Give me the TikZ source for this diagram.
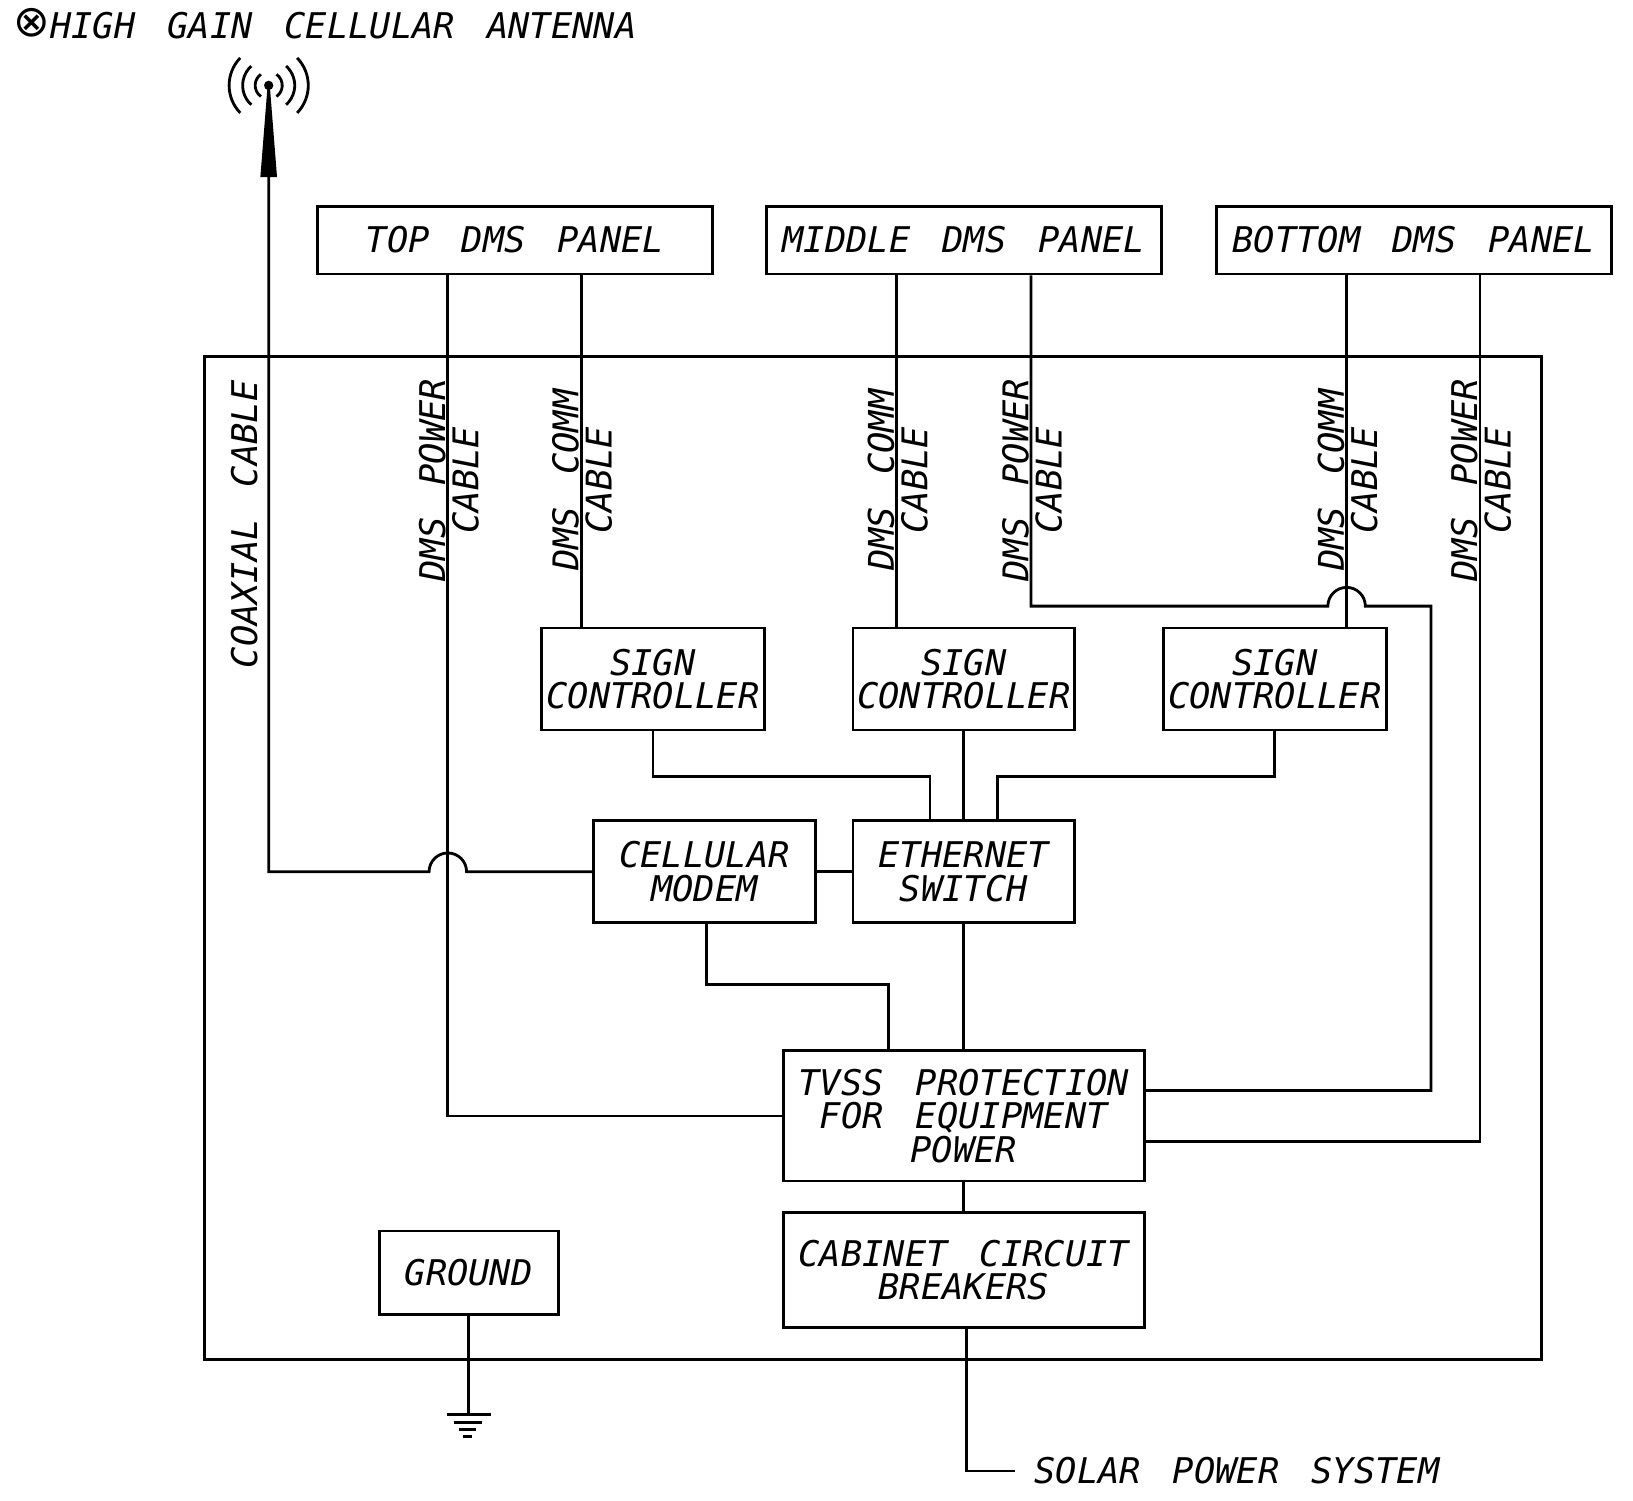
\documentclass[tikz,border=0pt]{standalone}
\usepackage{fontspec}
\newfontfamily\cad{DejaVu Sans Mono}[WordSpace=1.5]
\newfontfamily\symf{DejaVu Sans}
\newcommand\cadfont{\cad\itshape\fontsize{34}{32}\selectfont}
\begin{document}
\begin{tikzpicture}[x=1pt,y=-1pt,
  box/.style={draw, line width=2.7pt, inner sep=0pt, align=center, font=\cadfont},
  vlabel/.style={rotate=90, inner sep=0pt, align=center, font=\cadfont},
  wire/.style={line width=2.7pt, line join=miter},
  gbar/.style={line width=2.8pt}]
\useasboundingbox (0,0) rectangle (1568,1441);

% cabinet
\draw[wire] (196,342) rectangle (1480,1305);

% boxes
\node[box, minimum width=379pt, minimum height=65pt] (top) at (494.5,230.5) {TOP DMS PANEL};
\node[box, minimum width=379pt, minimum height=65pt] (mid) at (925.5,230.5) {MIDDLE DMS PANEL};
\node[box, minimum width=379pt, minimum height=65pt] (bot) at (1357.5,230.5) {BOTTOM DMS PANEL};
\node[box, minimum width=214pt, minimum height=98pt] (sc1) at (627,652) {SIGN\\CONTROLLER};
\node[box, minimum width=213pt, minimum height=98pt] (sc2) at (925.5,652) {SIGN\\CONTROLLER};
\node[box, minimum width=214pt, minimum height=98pt] (sc3) at (1224,652) {SIGN\\CONTROLLER};
\node[box, minimum width=213pt, minimum height=98pt] (modem) at (676.5,837) {CELLULAR\\MODEM};
\node[box, minimum width=213pt, minimum height=98pt] (eth) at (925.5,837) {ETHERNET\\SWITCH};
\node[box, minimum width=347pt, minimum height=125pt] (tvss) at (925.5,1071.5) {TVSS PROTECTION\\FOR EQUIPMENT\\POWER};
\node[box, minimum width=347pt, minimum height=111pt] (cb) at (925.5,1219.5) {CABINET CIRCUIT\\BREAKERS};
\node[box, minimum width=172pt, minimum height=80pt] (gnd) at (450,1222) {GROUND};

% header
\node[font=\symf\fontsize{42}{42}\selectfont, inner sep=0pt] (sym) at (31,22) {⊗};
\node[font=\cadfont, anchor=base west, inner sep=0pt] (title) at (48,37) {HIGH GAIN CELLULAR ANTENNA};

% antenna
\fill (258,82) circle[radius=4.5];
\fill (256.8,84) -- (259.2,84) -- (266,170) -- (250,170) -- cycle;
\coordinate (ant) at (258,170);
\draw[line width=2.7pt] (258,82) ++(136:38) arc[start angle=136, end angle=224, radius=38];
\draw[line width=2.7pt] (258,82) ++(-44:38) arc[start angle=-44, end angle=44, radius=38];
\draw[line width=2.7pt] (258,82) ++(132:25) arc[start angle=132, end angle=228, radius=25];
\draw[line width=2.7pt] (258,82) ++(-48:25) arc[start angle=-48, end angle=48, radius=25];
\draw[line width=2.7pt] (258,82) ++(125:13) arc[start angle=125, end angle=235, radius=13];
\draw[line width=2.7pt] (258,82) ++(-55:13) arc[start angle=-55, end angle=55, radius=13];

% coaxial cable with hop
\draw[wire] (ant) -- (258,837) -- (412,837) arc[start angle=180, end angle=360, radius=18] -- (modem.west);

% DMS cables
\draw[wire] ([xshift=-64.5pt]top.south) |- (tvss.west);
\draw[wire] ([xshift=63.5pt]top.south) -- ([xshift=-69pt]sc1.north);
\draw[wire] ([xshift=-64.5pt]mid.south) -- ([xshift=-64.5pt]sc2.north);
\draw[wire] ([xshift=64.5pt]mid.south) -- (990,582) -- (1275,582)
  arc[start angle=180, end angle=360, radius=18] -- (1374,582) |- ([yshift=24.5pt]tvss.east);
\draw[wire] ([xshift=-64.5pt]bot.south) -- ([xshift=69pt]sc3.north);
\draw[wire] ([xshift=63.5pt]bot.south) |- ([yshift=-24.5pt]tvss.east);

% controller to switch
\draw[wire] (sc1.south) -- ++(0,43) -| ([xshift=-32.5pt]eth.north);
\draw[wire] (sc2.south) -- (eth.north);
\draw[wire] (sc3.south) -- ++(0,43) -| ([xshift=32.5pt]eth.north);
\draw[wire] (modem.east) -- (eth.west);
\draw[wire] ([xshift=1.5pt]modem.south) -- ++(0,58) -| ([xshift=-72.5pt]tvss.north);
\draw[wire] (eth.south) -- (tvss.north);
\draw[wire] (tvss.south) -- (cb.north);

% solar
\node[font=\cadfont, anchor=west, inner sep=0pt, inner xsep=18pt] (solar) at (975,1412.5) {SOLAR POWER SYSTEM};
\draw[wire] ([xshift=2.5pt]cb.south) |- (solar.west);

% ground
\coordinate (gp) at (450,1358.5);
\draw[wire] (gnd.south) -- (gp);
\draw[gbar] (429.5,1358.5) -- (471,1358.5);
\draw[gbar] (436,1365.6) -- (462.5,1365.6);
\draw[gbar] (441,1372.7) -- (457,1372.7);
\draw[gbar] (444.5,1379.7) -- (453.5,1379.7);

% vertical cable labels
\node[vlabel] (lcoax) at (234.5,503.5) {COAXIAL CABLE};
\node[vlabel] (l1) at (431,461) {DMS POWER\\CABLE};
\node[vlabel] (l2) at (559,461) {DMS COMM\\CABLE};
\node[vlabel] (l3) at (862,461) {DMS COMM\\CABLE};
\node[vlabel] (l4) at (991,461) {DMS POWER\\CABLE};
\node[vlabel] (l5) at (1294,461) {DMS COMM\\CABLE};
\node[vlabel] (l6) at (1422,461) {DMS POWER\\CABLE};
\end{tikzpicture}
\end{document}
